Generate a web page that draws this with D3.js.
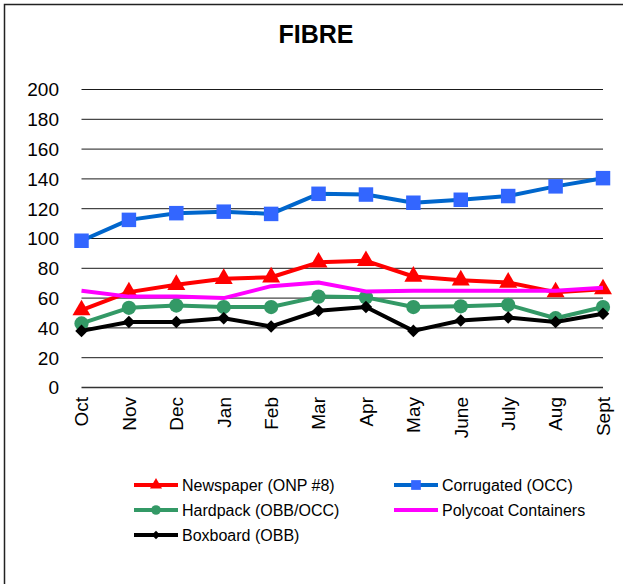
<!DOCTYPE html>
<html>
<head>
<meta charset="utf-8">
<script src="https://cdn.jsdelivr.net/npm/d3@7"></script>
<style>
  html, body { margin: 0; padding: 0; background: #fff; }
  svg { display: block; font-family: "Liberation Sans", Arial, sans-serif; }
</style>
</head>
<body>
<div id="chart"></div>
<script>
// Dados do gráfico
const months = ['Oct', 'Nov', 'Dec', 'Jan', 'Feb', 'Mar', 'Apr', 'May', 'June', 'July', 'Aug', 'Sept'];
const yTicks = [0, 20, 40, 60, 80, 100, 120, 140, 160, 180, 200];

const newspaper = [52, 64, 69, 73, 74, 84, 85, 74.5, 72, 70.5, 64, 66];
const corrugated = [98.5, 112.5, 117, 118, 116.5, 130, 129.5, 124, 126, 128.5, 135, 140.5];
const hardpack = [43, 53.5, 55, 54, 54, 61, 60.5, 54, 54.5, 55.5, 46.5, 54];
const polycoat = [65, 61, 61, 60, 68, 70.5, 64.5, 65, 65, 65, 65, 67];
const boxboard = [38, 44, 44, 46.5, 41, 51.5, 54, 38, 45, 47, 44, 49.5];

const seriesNames = ['Newspaper (ONP #8)', 'Corrugated (OCC)', 'Hardpack (OBB/OCC)', 'Polycoat Containers', 'Boxboard (OBB)'];

(function() {
  'use strict';

  const width = 623;
  const height = 584;

  const series = [
    { name: seriesNames[0], values: newspaper, line: '#ff0000', fill: '#ff0000', marker: 'triangle', size: 140 },
    { name: seriesNames[1], values: corrugated, line: '#0066cc', fill: '#3366ff', marker: 'square', size: 210 },
    { name: seriesNames[2], values: hardpack, line: '#339966', fill: '#339966', marker: 'circle', size: 160 },
    { name: seriesNames[3], values: polycoat, line: '#ff00ff', fill: '#ff00ff', marker: null, size: 0 },
    { name: seriesNames[4], values: boxboard, line: '#000000', fill: '#000000', marker: 'diamond', size: 100 }
  ];

  const symbols = {
    triangle: d3.symbolTriangle,
    square: d3.symbolSquare,
    circle: d3.symbolCircle,
    diamond: d3.symbolDiamond2 || d3.symbolDiamond
  };

  const svg = d3.select('#chart')
    .append('svg')
    .attr('width', width)
    .attr('height', height);

  // moldura do gráfico (cortada à direita e embaixo)
  svg.append('rect')
    .attr('x', 4.5)
    .attr('y', 4.5)
    .attr('width', 700)
    .attr('height', 700)
    .attr('fill', '#fff')
    .attr('stroke', '#222')
    .attr('stroke-width', 1.5);

  svg.append('text')
    .attr('x', 316)
    .attr('y', 43)
    .attr('text-anchor', 'middle')
    .attr('font-size', 25)
    .attr('font-weight', 'bold')
    .text('FIBRE');

  const x = d3.scalePoint()
    .domain(months)
    .range([81.5, 603]);

  const y = d3.scaleLinear()
    .domain([0, 200])
    .range([387.5, 89.5]);

  // grade horizontal
  svg.append('g')
    .selectAll('line')
    .data(yTicks)
    .join('line')
    .attr('x1', 81.5)
    .attr('x2', 603)
    .attr('y1', d => y(d))
    .attr('y2', d => y(d))
    .attr('stroke', d => d === 0 ? '#333' : '#1a1a1a')
    .attr('stroke-width', d => d === 0 ? 1.5 : 1);

  // rótulos do eixo Y
  svg.append('g')
    .selectAll('text')
    .data(yTicks)
    .join('text')
    .attr('x', 59)
    .attr('y', d => y(d))
    .attr('dy', '0.36em')
    .attr('text-anchor', 'end')
    .attr('font-size', 19)
    .text(d => d);

  // rótulos do eixo X (verticais)
  svg.append('g')
    .selectAll('text')
    .data(months)
    .join('text')
    .attr('transform', d => `translate(${x(d)}, 397) rotate(-90)`)
    .attr('dy', '0.36em')
    .attr('text-anchor', 'end')
    .attr('font-size', 19)
    .text(d => d);

  const line = d3.line()
    .x((d, i) => x(months[i]))
    .y(d => y(d));

  series.forEach(s => {
    const g = svg.append('g');

    g.append('path')
      .attr('d', line(s.values))
      .attr('fill', 'none')
      .attr('stroke', s.line)
      .attr('stroke-width', 4)
      .attr('stroke-linejoin', 'round');

    if (s.marker) {
      g.selectAll('path.marker')
        .data(s.values)
        .join('path')
        .attr('class', 'marker')
        .attr('transform', (d, i) => `translate(${x(months[i])}, ${y(d)})`)
        .attr('d', d3.symbol().type(symbols[s.marker]).size(s.size))
        .attr('fill', s.fill);
    }
  });

  // legenda
  const legendPos = [
    { lx: 134, tx: 182, ty: 485 },
    { lx: 394, tx: 442, ty: 485 },
    { lx: 134, tx: 182, ty: 510 },
    { lx: 394, tx: 442, ty: 510 },
    { lx: 134, tx: 182, ty: 535 }
  ];

  series.forEach((s, i) => {
    const p = legendPos[i];
    const g = svg.append('g');

    g.append('line')
      .attr('x1', p.lx)
      .attr('x2', p.lx + 44)
      .attr('y1', p.ty)
      .attr('y2', p.ty)
      .attr('stroke', s.line)
      .attr('stroke-width', 4);

    if (s.marker) {
      g.append('path')
        .attr('transform', `translate(${p.lx + 22}, ${p.ty})`)
        .attr('d', d3.symbol().type(symbols[s.marker]).size(s.size * 0.45))
        .attr('fill', s.fill);
    }

    g.append('text')
      .attr('x', p.tx)
      .attr('y', p.ty)
      .attr('dy', '0.36em')
      .attr('font-size', 16)
      .text(s.name);
  });
})();
</script>
</body>
</html>
